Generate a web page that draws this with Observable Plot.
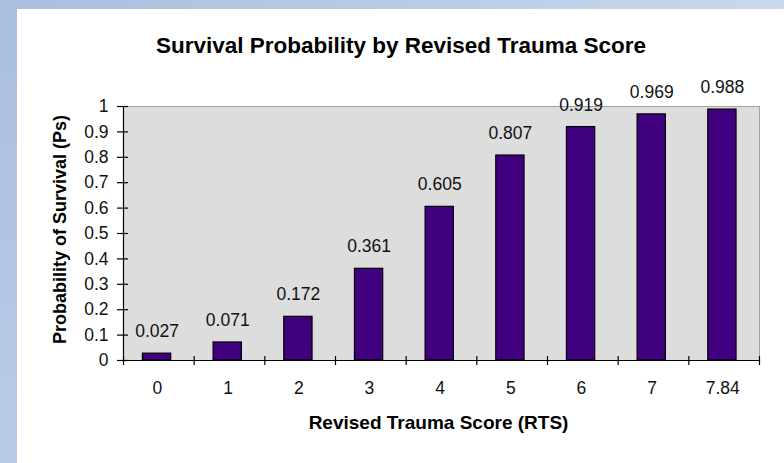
<!DOCTYPE html>
<html>
<head>
<meta charset="utf-8">
<script src="https://cdn.jsdelivr.net/npm/d3@7"></script>
<script src="https://cdn.jsdelivr.net/npm/@observablehq/plot@0.6"></script>
<style>
  html, body { margin: 0; padding: 0; background: #ffffff; }
  #wrap { position: relative; width: 784px; height: 463px; background: #ffffff; overflow: hidden; }
  #bandTop { position: absolute; left: 0; top: 0; width: 784px; height: 9px;
    background: linear-gradient(to right, #a9bfdf, #c8d8ec); }
  #bandLeft { position: absolute; left: 0; top: 0; width: 17px; height: 463px;
    background: linear-gradient(to bottom, #a9bfdf, #b9cbe6); }
  #chart { position: absolute; left: 0; top: 0; }
</style>
</head>
<body>
<div id="wrap">
  <div id="bandTop"></div>
  <div id="bandLeft"></div>
  <div id="chart"></div>
</div>
<script>
const title = "Survival Probability by Revised Trauma Score";
const xTitle = "Revised Trauma Score (RTS)";
const yTitle = "Probability of Survival (Ps)";
const categories = ["0", "1", "2", "3", "4", "5", "6", "7", "7.84"];
const survival = [0.027, 0.071, 0.172, 0.361, 0.605, 0.807, 0.919, 0.969, 0.988];
const valueLabels = ["0.027", "0.071", "0.172", "0.361", "0.605", "0.807", "0.919", "0.969", "0.988"];
const yTicks = [0, 0.1, 0.2, 0.3, 0.4, 0.5, 0.6, 0.7, 0.8, 0.9, 1];
const yTickLabels = ["0", "0.1", "0.2", "0.3", "0.4", "0.5", "0.6", "0.7", "0.8", "0.9", "1"];

const data = categories.map((c, i) => ({i, rts: c, ps: survival[i], label: valueLabels[i]}));
const bounds = d3.range(0, categories.length + 1);
const yTickData = yTicks.map((v, i) => ({v, label: yTickLabels[i]}));
const font = "'Liberation Sans', Arial, sans-serif";

const chart = Plot.plot({
  width: 784,
  height: 463,
  marginLeft: 123,
  marginRight: 25,
  marginTop: 106,
  marginBottom: 103,
  x: {domain: [0, categories.length], axis: null},
  y: {domain: [0, 1], axis: null},
  style: {background: "transparent", fontFamily: font, overflow: "visible"},
  marks: [
    Plot.frame({fill: "#dddddd", stroke: "#a0a0a0", strokeWidth: 1}),
    Plot.rectY(data, {
      x1: d => d.i + 0.275, x2: d => d.i + 0.675, y1: 0, y2: "ps",
      fill: "#400080", stroke: "#000000", strokeWidth: 1.2
    }),
    Plot.ruleY([0], {stroke: "#000000", strokeWidth: 1.2}),
    Plot.ruleX([0], {stroke: "#000000", strokeWidth: 1.2}),
    Plot.ruleX(bounds, {x: d => d, y1: 0, y2: 0, insetTop: -4, insetBottom: -5, stroke: "#000000", strokeWidth: 1.2}),
    Plot.ruleY(yTickData, {y: "v", x1: 0, x2: 0, insetLeft: -6, insetRight: -5, stroke: "#000000", strokeWidth: 1.2}),
    Plot.text(data, {
      x: d => d.i + 0.475, y: "ps", text: "label",
      lineAnchor: "bottom", dy: -16.5, fontSize: 17.5, fill: "#111111"
    }),
    Plot.text(data, {
      x: d => d.i + 0.48, text: "rts", frameAnchor: "bottom",
      lineAnchor: "bottom", dy: 33, fontSize: 17.5, fill: "#111111"
    }),
    Plot.text(yTickData, {
      y: "v", text: "label", frameAnchor: "left", textAnchor: "end",
      lineAnchor: "middle", dx: -15, fontSize: 17.5, fill: "#111111"
    }),
    Plot.text([title], {
      text: d => d, frameAnchor: "top", textAnchor: "middle", lineAnchor: "bottom",
      dx: -40.5, dy: -54, fontSize: 22.5, fontWeight: "bold", fill: "#000000"
    }),
    Plot.text([xTitle], {
      text: d => d, frameAnchor: "bottom", textAnchor: "middle", lineAnchor: "bottom",
      dx: -3, dy: 68, fontSize: 19, fontWeight: "bold", fill: "#000000"
    }),
    Plot.text([yTitle], {
      text: d => d, frameAnchor: "left", textAnchor: "middle", lineAnchor: "bottom", rotate: -90,
      dx: -58, dy: -4, fontSize: 18, fontWeight: "bold", fill: "#000000"
    })
  ]
});
document.getElementById("chart").appendChild(chart);
</script>
</body>
</html>
